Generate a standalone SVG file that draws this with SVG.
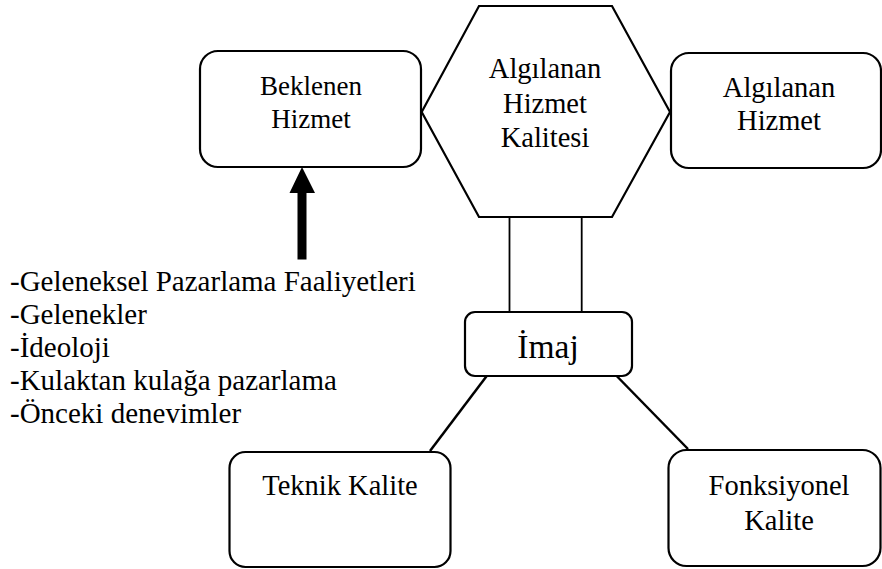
<svg xmlns="http://www.w3.org/2000/svg" width="882" height="569" viewBox="0 0 882 569">
<style>
.box{fill:#fff;stroke:#000;stroke-width:2.2}
.t{font-family:"Liberation Serif","Times New Roman",serif;font-size:28.5px;fill:#000;text-anchor:middle}
.t.sm{font-size:27px}
.t.big{font-size:33.5px}
.list{font-family:"Liberation Serif","Times New Roman",serif;font-size:29px;fill:#000}
.ln{stroke:#000;stroke-width:2.5;fill:none}
.vl{stroke:#000;stroke-width:1.8;fill:none}
</style>
<rect width="882" height="569" fill="#fff"/>
<g id="connectors">
<line class="vl" x1="509.5" y1="217" x2="509.5" y2="312"/>
<line class="vl" x1="581.7" y1="217" x2="581.7" y2="312"/>
<line class="ln" x1="486.7" y1="376" x2="430" y2="451"/>
<line class="ln" x1="616.7" y1="376" x2="688" y2="449"/>
<polygon points="297.5,259.5 306.5,259.5 306.5,193 315,193 302,167 289.5,193 297.5,193" fill="#000"/>
</g>
<g id="beklenen">
<rect class="box" x="200" y="51" width="221" height="116" rx="18"/>
<text class="t sm" x="311" y="95">Beklenen</text>
<text class="t sm" x="311" y="128">Hizmet</text>
</g>
<g id="algilanan-kalite">
<polygon class="box" points="479,6 612,6 670,112 612,217 479,217 421.7,112"/>
<text class="t" x="545" y="78">Algılanan</text>
<text class="t" x="545" y="113">Hizmet</text>
<text class="t" x="545" y="147">Kalitesi</text>
</g>
<g id="algilanan-hizmet">
<rect class="box" x="671" y="53" width="210" height="115" rx="18"/>
<text class="t" x="779" y="97">Algılanan</text>
<text class="t" x="779" y="130">Hizmet</text>
</g>
<g id="imaj">
<rect class="box" x="465" y="312" width="167" height="64" rx="10"/>
<text class="t big" x="548" y="358">İmaj</text>
</g>
<g id="teknik">
<rect class="box" x="229.5" y="452" width="221" height="115" rx="16"/>
<text class="t" x="340" y="495">Teknik Kalite</text>
</g>
<g id="fonksiyonel">
<rect class="box" x="668.5" y="450" width="212" height="116" rx="18"/>
<text class="t" x="779" y="495">Fonksiyonel</text>
<text class="t" x="779" y="530">Kalite</text>
</g>
<g id="list">
<text class="list" x="10" y="290.7">-Geleneksel Pazarlama Faaliyetleri</text>
<text class="list" x="10" y="324">-Gelenekler</text>
<text class="list" x="10" y="357">-İdeoloji</text>
<text class="list" x="10" y="390">-Kulaktan kulağa pazarlama</text>
<text class="list" x="10" y="423.3">-Önceki denevimler</text>
</g>
</svg>
